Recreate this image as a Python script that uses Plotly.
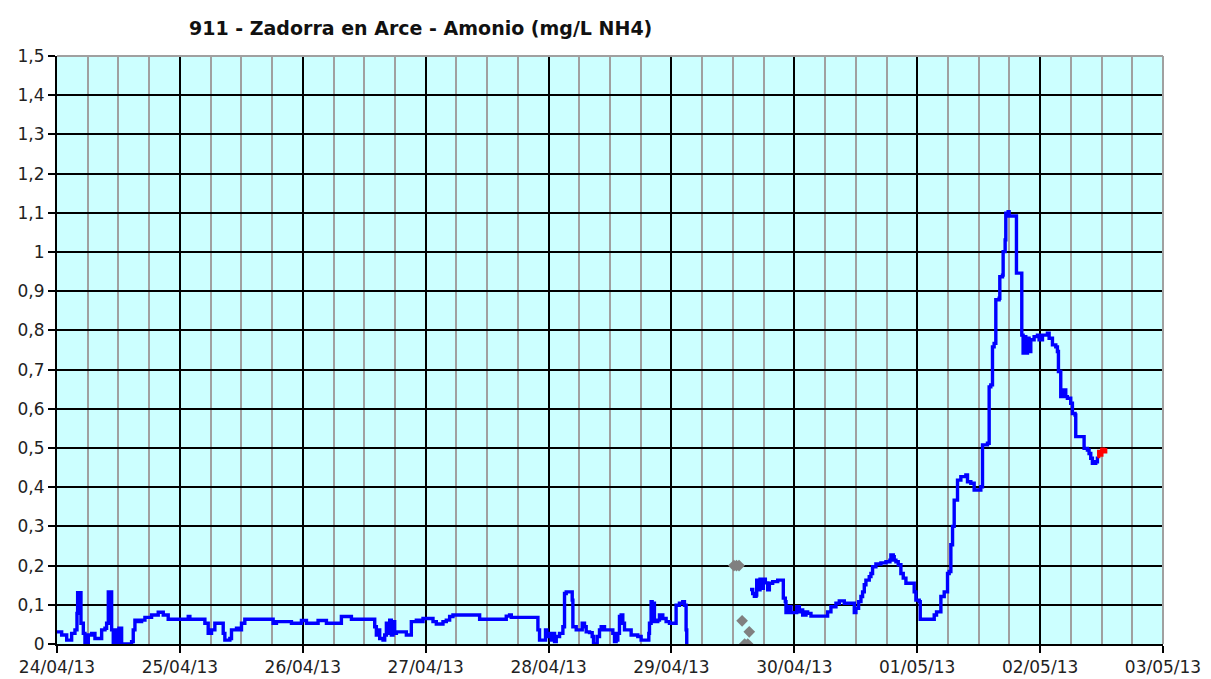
import pandas as pd
import plotly.graph_objects as go

title_text = "911 - Zadorra en Arce - Amonio (mg/L NH4)"
start_date = "2013-04-24"

# Blue series before the gap (hours since 24/04/13 00:00, mg/L)
blue_a_hours = [0.0, 0.91, 1.89, 2.86, 3.51, 3.90, 4.03, 4.68, 5.14, 5.46, 6.11, 6.76, 7.41, 8.72, 9.37,
                9.69, 10.02, 10.67, 10.99, 11.32, 11.64, 12.10, 12.62, 14.57, 14.89, 15.22, 15.87, 16.52,
                17.17, 18.47, 19.77, 20.75, 21.72, 25.63, 25.95, 28.88, 29.53, 30.18, 30.83, 32.46, 32.78,
                33.76, 34.08, 35.06, 35.71, 36.03, 36.68,
                42.21, 42.86, 45.79, 47.74, 48.72, 50.99, 52.62, 55.54, 57.50, 62.05, 62.37, 62.70, 63.02,
                63.67, 64.00, 64.33, 64.65, 64.98, 65.30, 65.63, 65.95, 66.28, 68.23, 69.20, 70.18, 70.83,
                71.48, 73.43, 74.08, 75.38, 76.03,
                76.68, 77.33, 82.54, 87.74, 88.39, 88.72, 93.92, 94.24, 95.41, 95.67, 96.20, 96.52, 96.85,
                97.17, 97.50, 98.15, 98.80, 99.12, 99.45, 100.62, 100.75, 101.40, 102.57, 103.02, 103.35,
                104.00, 104.52, 104.78, 105.50, 105.95, 106.28, 106.93, 108.55, 108.88, 109.20, 109.53,
                109.85, 110.18, 110.50, 110.83, 112.13, 113.43, 114.08, 115.58, 115.71, 116.03, 116.23,
                116.49, 116.68, 117.33, 117.66, 118.31, 118.96, 119.61, 120.91, 121.56, 122.21, 122.54,
                122.86, 122.99]
blue_a_vals = [0.031, 0.023, 0.010, 0.027, 0.036, 0.078, 0.131, 0.053, 0.027, 0.0, 0.023, 0.027, 0.014,
               0.036, 0.040, 0.053, 0.133, 0.036, 0.0, 0.036, 0.0, 0.040, 0.0, 0.006, 0.036, 0.061, 0.057,
               0.061, 0.068, 0.074, 0.081, 0.074, 0.063, 0.070, 0.063, 0.053, 0.027, 0.036, 0.053, 0.027,
               0.010, 0.014, 0.036, 0.040, 0.036, 0.053, 0.063,
               0.053, 0.057, 0.053, 0.060, 0.053, 0.060, 0.053, 0.070, 0.063, 0.044, 0.023, 0.036, 0.014,
               0.010, 0.023, 0.053, 0.027, 0.061, 0.023, 0.057, 0.027, 0.031, 0.023, 0.057, 0.061, 0.057,
               0.065, 0.057, 0.051, 0.057, 0.061,
               0.070, 0.074, 0.063, 0.071, 0.074, 0.068, 0.036, 0.010, 0.036, 0.019, 0.027, 0.010, 0.027,
               0.006, 0.019, 0.027, 0.044, 0.129, 0.133, 0.112, 0.044, 0.036, 0.053, 0.044, 0.031,
               0.029, 0.019, 0.0, 0.019, 0.036, 0.044, 0.036, 0.027, 0.006, 0.010, 0.027,
               0.070, 0.074, 0.053, 0.036, 0.023, 0.019, 0.010, 0.027, 0.053, 0.108, 0.061,
               0.104, 0.057, 0.061, 0.074, 0.065, 0.057, 0.053, 0.099, 0.104, 0.108, 0.099,
               0.036, 0.0]

# Blue series after the gap
blue_b_hours = [135.35, 135.87, 136.20, 136.52, 136.65, 137.04, 137.30, 137.69, 137.95, 138.34, 138.80,
                139.12, 139.77, 140.75, 141.85, 142.24, 142.37, 142.89, 143.35, 144.46, 144.98, 145.30,
                145.63, 146.28, 146.60, 147.25, 150.50, 151.15, 152.13, 152.78, 153.76, 155.71, 156.03,
                156.55, 157.01, 157.33, 157.66, 157.98, 158.63, 158.96, 159.28, 159.93, 160.91, 161.89,
                162.67, 162.86, 163.32, 163.51, 163.84, 164.29, 164.81, 165.27, 165.79, 167.41, 167.74,
                168.39, 168.59, 171.32, 171.77, 172.62, 173.27, 173.92, 174.24, 174.57, 174.90, 175.22,
                175.87, 176.52, 177.50, 177.82, 178.47, 179.12, 180.42, 180.75, 181.72, 182.05, 182.37,
                182.70, 183.02, 183.35, 184.00, 184.13, 184.65, 184.78, 185.17, 185.30, 185.76, 185.95,
                187.38, 188.42, 188.68, 188.88, 189.20, 189.53, 189.85, 190.18, 190.83, 191.48, 191.80,
                192.46, 193.43, 193.76, 194.41, 195.06, 195.38, 195.58, 196.03, 196.36, 196.68, 197.01,
                197.33, 197.98, 198.31, 198.83, 198.96, 200.59, 201.24, 201.56, 201.89, 202.21, 202.86,
                203.19]
blue_b_vals = [0.139, 0.129, 0.122, 0.125, 0.163, 0.138, 0.165, 0.142, 0.165, 0.156, 0.138,
               0.155, 0.159, 0.163, 0.117, 0.108, 0.080, 0.095, 0.080, 0.095, 0.082, 0.087,
               0.074, 0.082, 0.078, 0.071, 0.082, 0.095, 0.104, 0.110, 0.104, 0.080, 0.091,
               0.108, 0.121, 0.133, 0.151, 0.163, 0.172, 0.180, 0.197, 0.204, 0.207, 0.210,
               0.214, 0.227, 0.223, 0.214, 0.210, 0.202, 0.180, 0.168, 0.155, 0.133, 0.112,
               0.108, 0.063, 0.074, 0.082, 0.121, 0.133, 0.180, 0.185, 0.253, 0.300, 0.367,
               0.418, 0.427, 0.431, 0.414, 0.410, 0.393, 0.401, 0.508, 0.512, 0.656, 0.661,
               0.758, 0.767, 0.878, 0.882, 0.937, 0.941, 1.001, 1.031, 1.099, 1.103, 1.092,
               0.946, 0.788, 0.742, 0.784, 0.742, 0.780, 0.746, 0.776, 0.784, 0.788, 0.776,
               0.788, 0.793, 0.780, 0.763, 0.758, 0.746, 0.695, 0.631, 0.644, 0.648, 0.631,
               0.627, 0.614, 0.588, 0.584, 0.529, 0.499, 0.495, 0.486, 0.474, 0.461, 0.465,
               0.478]

# Red (provisional) series
red_hours = [203.19, 203.45, 203.75, 204.05, 204.40, 204.80]
red_vals = [0.478, 0.491, 0.482, 0.497, 0.490, 0.500]

# Grey (invalid) points
grey_hours = [132.2, 132.7, 133.2, 133.8, 134.3, 134.9, 135.2]
grey_vals = [0.200, 0.200, 0.200, 0.059, 0.000, 0.000, 0.031]

# Axis ticks
y_tickvals = [0.0, 0.1, 0.2, 0.3, 0.4, 0.5, 0.6, 0.7, 0.8, 0.9, 1.0, 1.1, 1.2, 1.3, 1.4, 1.5]
y_ticktext = ["0", "0,1", "0,2", "0,3", "0,4", "0,5", "0,6", "0,7", "0,8", "0,9", "1", "1,1", "1,2",
              "1,3", "1,4", "1,5"]
x_tickdates = ["2013-04-24", "2013-04-25", "2013-04-26", "2013-04-27", "2013-04-28", "2013-04-29",
               "2013-04-30", "2013-05-01", "2013-05-02", "2013-05-03"]
x_ticktext = ["24/04/13", "25/04/13", "26/04/13", "27/04/13", "28/04/13", "29/04/13", "30/04/13",
              "01/05/13", "02/05/13", "03/05/13"]

base = pd.Timestamp(start_date)


def to_dt(hours):
    return [base + pd.Timedelta(hours=h) for h in hours]


fig = go.Figure()
for hrs, vals in [(blue_a_hours, blue_a_vals), (blue_b_hours, blue_b_vals)]:
    fig.add_trace(go.Scatter(x=to_dt(hrs), y=vals, mode="lines", line=dict(color="#0000FF", width=3.4, shape="hv"),
                             showlegend=False, hoverinfo="skip"))
fig.add_trace(go.Scatter(x=to_dt(red_hours), y=red_vals, mode="lines",
                         line=dict(color="#FF0000", width=3.4, shape="hv"), showlegend=False))
fig.add_trace(go.Scatter(x=to_dt(grey_hours), y=grey_vals, mode="markers",
                         marker=dict(color="#808080", size=9, symbol="diamond"), showlegend=False))

font_family = "DejaVu Sans, Verdana, sans-serif"
x_start = pd.Timestamp(x_tickdates[0])
x_end = pd.Timestamp(x_tickdates[-1])

# the page adds an 8px body margin, so margins are compensated
fig.update_layout(
    width=1211, height=679,
    margin=dict(l=49, r=56, t=48, b=43, autoexpand=False),
    paper_bgcolor="white",
    plot_bgcolor="#CCFFFF",
    font=dict(family=font_family, size=17, color="#222222"),
    xaxis=dict(
        range=[x_start, x_end],
        tickvals=[pd.Timestamp(d) for d in x_tickdates],
        ticktext=x_ticktext,
        showgrid=True, gridcolor="#000000", gridwidth=2,
        minor=dict(dtick=6 * 3600 * 1000, showgrid=True, gridcolor="#A0A0A0", gridwidth=2, ticks=""),
        showline=True, linecolor="#000000", linewidth=2,
        ticks="outside", ticklen=7, tickcolor="#000000", tickwidth=2,
        zeroline=False, fixedrange=True,
        tickfont=dict(size=17),
    ),
    yaxis=dict(
        range=[0, 1.5],
        tickvals=y_tickvals,
        ticktext=y_ticktext,
        showgrid=True, gridcolor="#000000", gridwidth=2,
        showline=True, linecolor="#000000", linewidth=2,
        ticks="outside", ticklen=7, tickcolor="#000000", tickwidth=2,
        zeroline=False, fixedrange=True,
        tickfont=dict(size=17),
    ),
    shapes=[
        dict(type="line", xref="paper", yref="paper", x0=0, x1=1, y0=1, y1=1,
             line=dict(color="#A0A0A0", width=2), layer="above"),
        dict(type="line", xref="paper", yref="paper", x0=1, x1=1, y0=0, y1=1,
             line=dict(color="#A0A0A0", width=2), layer="above"),
    ],
    annotations=[
        dict(text="<b>" + title_text + "</b>", xref="paper", yref="paper",
             x=(187 - 57) / 1106, y=1 + 28 / 588, xanchor="left", yanchor="middle",
             showarrow=False, font=dict(size=19, color="#111111", family=font_family)),
    ],
)

fig.write_html("out.html")
